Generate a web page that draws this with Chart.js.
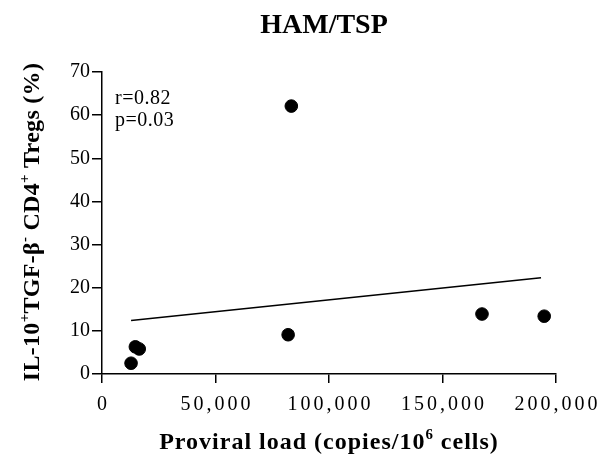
<!DOCTYPE html>
<html>
<head>
<meta charset="utf-8">
<script src="https://cdn.jsdelivr.net/npm/chart.js@4.4.0/dist/chart.umd.min.js"></script>
<style>
  html, body { margin: 0; padding: 0; background: #fff; }
  #wrap { width: 600px; height: 461px; }
</style>
</head>
<body>
<div id="wrap"><canvas id="scatterChart"></canvas></div>
<script>
// Patients: proviral load vs % of IL-10+TGF-b- CD4+ Tregs
const proviralLoad = [12800, 14700, 16400, 82000, 83400, 167400, 194800];
const tregPercent = [2.5, 6.3, 5.8, 9.1, 62.1, 13.9, 13.4];

// Regression line end points
const fitLoad = [12800, 193400];
const fitPercent = [12.4, 22.3];

// Axis ticks
const xTicks = [0, 50000, 100000, 150000, 200000];
const yTicks = [0, 10, 20, 30, 40, 50, 60, 70];

const statsText = ["r=0.82", "p=0.03"];
const serif = "'Liberation Serif', 'Times New Roman', serif";

// draws text made of parts, some of them superscript
function drawRich(ctx, parts, x, y, size, bold, spacing) {
    const weight = bold ? "bold " : "";
    ctx.letterSpacing = spacing + "px";
    let total = 0;
    parts.forEach(p => {
        ctx.font = weight + (p.sup ? size * 0.62 : size) + "px " + serif;
        total += ctx.measureText(p.t).width;
    });
    let cx = x - total / 2;
    parts.forEach(p => {
        ctx.font = weight + (p.sup ? size * 0.62 : size) + "px " + serif;
        ctx.fillText(p.t, cx, p.sup ? y - size * 0.42 : y);
        cx += ctx.measureText(p.t).width;
    });
    ctx.letterSpacing = "0px";
}

const labelsPlugin = {
    id: "labelsPlugin",
    afterDraw(chart) {
        const ctx = chart.ctx;
        const xScale = chart.scales.x;
        const area = chart.chartArea;
        ctx.save();
        ctx.fillStyle = "#000";
        ctx.textAlign = "left";
        ctx.textBaseline = "alphabetic";

        // x tick labels (spaced out like the original)
        ctx.font = "20px " + serif;
        ctx.letterSpacing = "3px";
        xTicks.forEach(v => {
            const txt = v.toLocaleString("en-US");
            const w = ctx.measureText(txt).width - 3;
            ctx.fillText(txt, xScale.getPixelForValue(v) - w / 2, 410);
        });
        ctx.letterSpacing = "0px";

        // title
        ctx.font = "bold 28px " + serif;
        ctx.textAlign = "center";
        ctx.fillText("HAM/TSP", 324, 33);
        ctx.textAlign = "left";

        // x axis title
        drawRich(ctx, [
            { t: "Proviral load (copies/10" },
            { t: "6", sup: true },
            { t: " cells)" }
        ], (area.left + area.right) / 2, 449, 24, true, 1);

        // y axis title, rotated
        ctx.save();
        ctx.translate(39, 222);
        ctx.rotate(-Math.PI / 2);
        drawRich(ctx, [
            { t: "IL-10" },
            { t: "+", sup: true },
            { t: "TGF-\u03B2" },
            { t: "-", sup: true },
            { t: " CD4" },
            { t: "+", sup: true },
            { t: " Tregs (%)" }
        ], 0, 0, 24, true, 0.3);
        ctx.restore();

        // correlation stats
        ctx.font = "20px " + serif;
        ctx.letterSpacing = "0.5px";
        ctx.fillText(statsText[0], 115, 104);
        ctx.fillText(statsText[1], 115, 125.5);
        ctx.restore();
    }
};

const scatterCtx = document.getElementById("scatterChart").getContext("2d");
const scatterChart = new Chart(scatterCtx, {
    type: "scatter",
    data: {
        datasets: [{
            label: "Patients",
            data: proviralLoad.map((v, i) => ({ x: v, y: tregPercent[i] })),
            backgroundColor: "#000",
            borderColor: "#000",
            pointRadius: 6.3,
            pointHoverRadius: 6.3,
        }, {
            type: "line",
            label: "Fit",
            data: fitLoad.map((v, i) => ({ x: v, y: fitPercent[i] })),
            borderColor: "#000",
            borderWidth: 1.5,
            pointRadius: 0,
            fill: false,
        }],
    },
    options: {
        responsive: true,
        maintainAspectRatio: false,
        animation: false,
        events: [],
        layout: {
            padding: { top: 72, right: 44, left: 0, bottom: 0 },
        },
        plugins: {
            legend: { display: false },
            tooltip: { enabled: false },
        },
        scales: {
            x: {
                type: "linear",
                min: 0,
                max: 200000,
                afterBuildTicks: scale => { scale.ticks = xTicks.map(v => ({ value: v })); },
                afterFit: scale => { scale.height = 87; },
                border: { display: true, color: "#000", width: 1.5 },
                grid: { drawOnChartArea: false, drawTicks: true, tickLength: 9, color: "#000", lineWidth: 1.5 },
                ticks: { display: false },
            },
            y: {
                min: 0,
                max: 70,
                afterBuildTicks: scale => { scale.ticks = yTicks.map(v => ({ value: v })); },
                afterFit: scale => { scale.width = 102; },
                border: { display: true, color: "#000", width: 1.5 },
                grid: { drawOnChartArea: false, drawTicks: true, tickLength: 10, color: "#000", lineWidth: 1.5 },
                ticks: {
                    color: "#000",
                    padding: 2,
                    font: { family: serif, size: 20 },
                },
            },
        },
    },
    plugins: [labelsPlugin],
});
</script>
</body>
</html>
